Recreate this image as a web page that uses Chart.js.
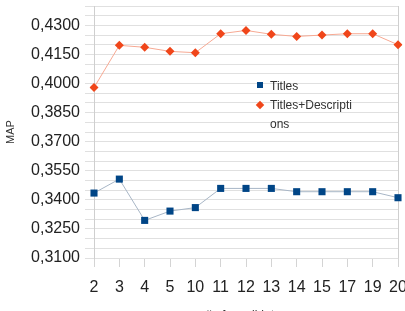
<!DOCTYPE html>
<html>
<head>
<meta charset="utf-8">
<script src="https://cdn.jsdelivr.net/npm/chart.js@4/dist/chart.umd.min.js"></script>
<style>
    html, body { margin: 0; padding: 0; background: #fff; overflow: hidden; }
    #wrap { position: relative; width: 405px; height: 311px; }
    #legend {
        position: absolute; left: 255px; top: 77px;
        font-family: "Liberation Sans", Arial, sans-serif; font-size: 12px; color: #333;
    }
    #legend .item { position: relative; padding-left: 15px; line-height: 19px; }
    #legend .txt { display: block; width: 86px; word-break: break-all; }
    #legend .sq { position: absolute; left: 2px; top: 5px; width: 6px; height: 6px; background: #004586; }
    #legend .dm { position: absolute; left: 2px; top: 6px; width: 6px; height: 6px; background: #f0461a; transform: rotate(45deg); }
</style>
</head>
<body>
<div id="wrap">
    <canvas id="chart" width="405" height="311"></canvas>
    <div id="legend">
        <div class="item"><span class="sq"></span><span class="txt">Titles</span></div>
        <div class="item"><span class="dm"></span><span class="txt">Titles+Descriptions</span></div>
    </div>
</div>
<script>
    // number of candidates
    var categories = ['2', '3', '4', '5', '10', '11', '12', '13', '14', '15', '17', '19', '20'];
    var titles = [0.3435, 0.3507, 0.3294, 0.3342, 0.3360, 0.3459, 0.3459, 0.3459, 0.3442, 0.3442, 0.3442, 0.3442, 0.3411];
    var titlesDesc = [0.3979, 0.4197, 0.4187, 0.4166, 0.4159, 0.4257, 0.4274, 0.4254, 0.4243, 0.4250, 0.4257, 0.4257, 0.4200];
    var yMin = 0.31, yMax = 0.44, yStep = 0.005;

    var font = "'Liberation Sans', Arial, sans-serif";

    var ctx = document.getElementById('chart').getContext('2d');
    new Chart(ctx, {
        type: 'line',
        data: {
            labels: categories,
            datasets: [{
                label: 'Titles',
                data: titles,
                borderColor: '#a8b6c6',
                borderWidth: 1,
                backgroundColor: '#004586',
                pointBackgroundColor: '#004586',
                pointBorderColor: '#004586',
                pointBorderWidth: 0,
                pointStyle: 'rect',
                pointRadius: 5,
                tension: 0
            }, {
                label: 'Titles+Descriptions',
                data: titlesDesc,
                borderColor: '#f7a993',
                borderWidth: 1,
                backgroundColor: '#f0461a',
                pointBackgroundColor: '#f0461a',
                pointBorderColor: '#f0461a',
                pointBorderWidth: 0,
                pointStyle: 'rectRot',
                pointRadius: 4.5,
                tension: 0
            }]
        },
        options: {
            responsive: false,
            animation: false,
            layout: { padding: { top: 6, right: 7, left: 0, bottom: 0 } },
            plugins: {
                legend: { display: false },
                tooltip: { enabled: false }
            },
            scales: {
                x: {
                    offset: false,
                    afterFit: function (scale) {
                        // the source chart is cropped: let the last label run off the edge
                        scale.height = 53;
                        scale.paddingLeft = 0;
                        scale.paddingRight = 0;
                    },
                    grid: {
                        drawOnChartArea: true,
                        tickLength: 9,
                        tickColor: '#d4d4d4',
                        color: function (c) {
                            return (c.index === 0 || c.index === categories.length - 1) ? '#cfcfcf' : 'rgba(0,0,0,0)';
                        }
                    },
                    border: { display: false },
                    ticks: { color: '#222', font: { family: font, size: 16 }, padding: 11, maxRotation: 0, autoSkip: false },
                    title: {
                        display: true, text: '# of candidates', color: '#333',
                        font: { family: font, size: 12 }, padding: { top: 0, bottom: -12 }
                    }
                },
                y: {
                    min: yMin,
                    max: yMax,
                    afterFit: function (scale) {
                        scale.width = 94;
                        scale.paddingTop = 0;
                        scale.paddingBottom = 0;
                    },
                    grid: { color: '#e0e0e0', tickLength: 9, tickColor: '#e0e0e0' },
                    border: { display: true, color: '#cfcfcf' },
                    ticks: {
                        stepSize: yStep,
                        color: '#222',
                        font: { family: font, size: 16 },
                        padding: 5,
                        autoSkip: false,
                        callback: function (value, index) {
                            return index % 3 === 0 ? value.toFixed(4).replace('.', ',') : '';
                        }
                    },
                    title: {
                        display: true, text: 'MAP', color: '#333',
                        font: { family: font, size: 11 }, padding: { top: 4, bottom: 0 }
                    }
                }
            }
        }
    });
</script>
</body>
</html>
